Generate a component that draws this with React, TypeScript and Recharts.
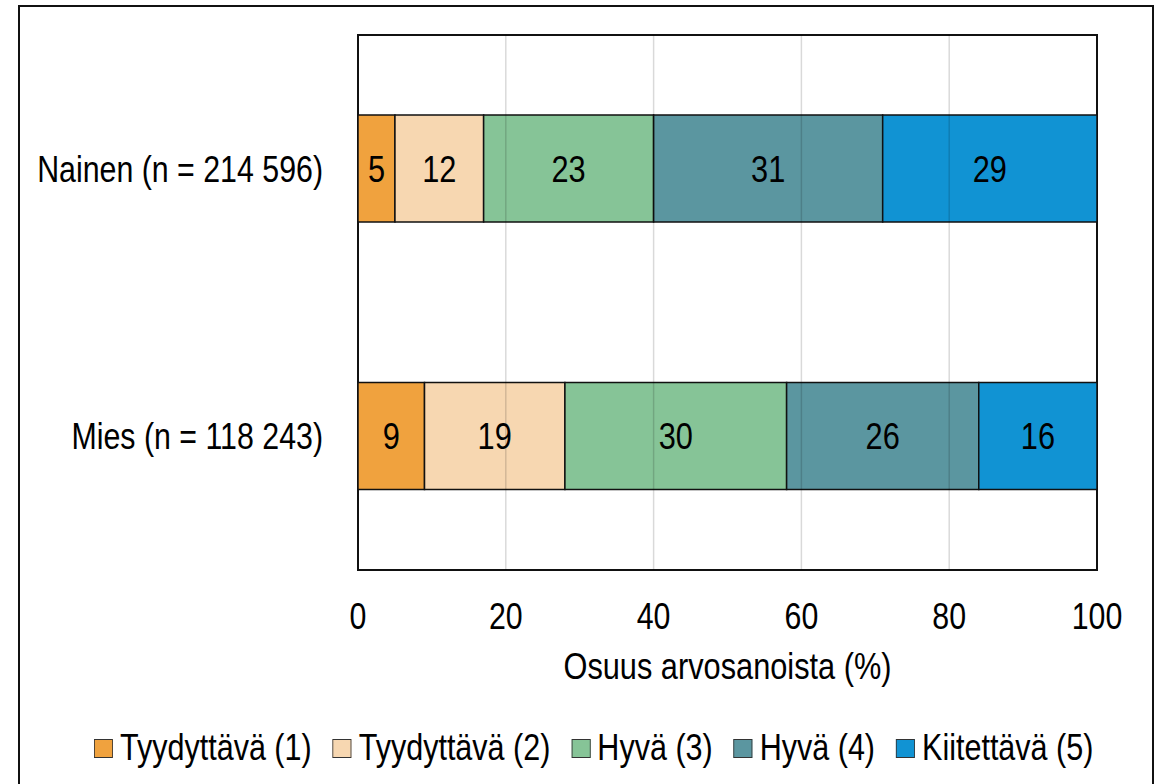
import React from 'react';
import { BarChart, Bar, XAxis, YAxis, ReferenceLine, ReferenceArea, LabelList } from 'recharts';

const categories = ['Nainen (n = 214 596)', 'Mies (n = 118 243)'];
const seriesNames = ['Tyydyttävä (1)', 'Tyydyttävä (2)', 'Hyvä (3)', 'Hyvä (4)', 'Kiitettävä (5)'];
const seriesColors = ['#F0A23E', '#F7D7B1', '#86C497', '#5B96A0', '#1193D3'];
const grade1 = [5, 9];
const grade2 = [12, 19];
const grade3 = [23, 30];
const grade4 = [31, 26];
const grade5 = [29, 16];
const xTicks = [0, 20, 40, 60, 80, 100];
const gridTicks = [20, 40, 60, 80];

const series = [grade1, grade2, grade3, grade4, grade5];
const keys = ['g1', 'g2', 'g3', 'g4', 'g5'];

const data = categories.map((name, i) => {
  const row: Record<string, string | number> = { name };
  keys.forEach((k, j) => { row[k] = series[j][i]; });
  return row;
});

// no Arial Narrow available: squeeze Liberation Sans horizontally instead
const FONT = '"Liberation Sans", Arial, sans-serif';
const SQ = 0.82;

function NarrowText({ x, y, text, size = 37.5, anchor = 'middle', dy = '0.355em' }: { x: number; y: number; text: string | number; size?: number; anchor?: string; dy?: string }) {
  return (
    <g transform={`translate(${x},${y})`}>
      <text transform={`scale(${SQ},1)`} textAnchor={anchor} dy={dy} fontSize={size} fontFamily={FONT} fill="#000">{text}</text>
    </g>
  );
}

const XTick = (p: any) => <NarrowText x={p.x} y={p.y} text={p.payload.value} size={37} dy="0.71em" />;
const YTick = (p: any) => <NarrowText x={p.x} y={p.y} text={p.payload.value} size={37} anchor="end" />;

const AxisTitle = (p: any) => {
  const vb = p.viewBox;
  return <NarrowText x={vb.x + vb.width / 2} y={vb.y + vb.height - 1} text="Osuus arvosanoista (%)" dy="0" />;
};

const BarLabel = (p: any) => <NarrowText x={p.x + p.width / 2} y={p.y + p.height / 2} text={p.value} />;

const LSQ = 0.825;

export default function App() {
  return (
    <div style={{ position: 'absolute', left: 0, top: 0, width: 1160, height: 784, overflow: 'hidden', background: '#fff', fontFamily: FONT }}>
      <div style={{ position: 'absolute', left: 18, top: 5, width: 1132, height: 900, border: '2px solid #111' }} />
      <div style={{ position: 'absolute', left: 0, top: 0 }}>
        <BarChart
          width={1160}
          height={784}
          data={data}
          layout="vertical"
          margin={{ top: 35, right: 63, bottom: 104, left: 0 }}
          barSize={107}
        >
          <XAxis
            type="number"
            domain={[0, 100]}
            ticks={xTicks}
            tickSize={0}
            tickMargin={33}
            height={110}
            axisLine={false}
            tick={<XTick />}
            label={<AxisTitle />}
          />
          <YAxis
            type="category"
            dataKey="name"
            width={358}
            tickSize={0}
            tickMargin={35}
            axisLine={false}
            tick={<YTick />}
          />
          {keys.map((k, j) => (
            <Bar key={k} dataKey={k} stackId="a" fill={seriesColors[j]} stroke="#111" strokeWidth={1.5} isAnimationActive={false}>
              <LabelList dataKey={k} content={<BarLabel />} />
            </Bar>
          ))}
          {gridTicks.map((t) => (
            <ReferenceLine key={t} x={t} stroke="rgba(0,0,0,0.15)" strokeWidth={1.5} />
          ))}
          <ReferenceArea x1={0} x2={100} fill="none" fillOpacity={0} stroke="#111" strokeWidth={2} />
        </BarChart>
      </div>
      <div style={{ position: 'absolute', left: 94, top: 727, display: 'flex', alignItems: 'center', gap: 21 / LSQ, fontSize: 37, lineHeight: '42px', color: '#000', whiteSpace: 'nowrap', transform: `scaleX(${LSQ})`, transformOrigin: 'left center' }}>
        {seriesNames.map((n, j) => (
          <div key={n} style={{ display: 'flex', alignItems: 'center', gap: 7 / LSQ }}>
            <span style={{ boxSizing: 'border-box', width: 19 / LSQ, height: 19, background: seriesColors[j], border: '1.5px solid #333', display: 'inline-block' }} />
            <span>{n}</span>
          </div>
        ))}
      </div>
    </div>
  );
}
